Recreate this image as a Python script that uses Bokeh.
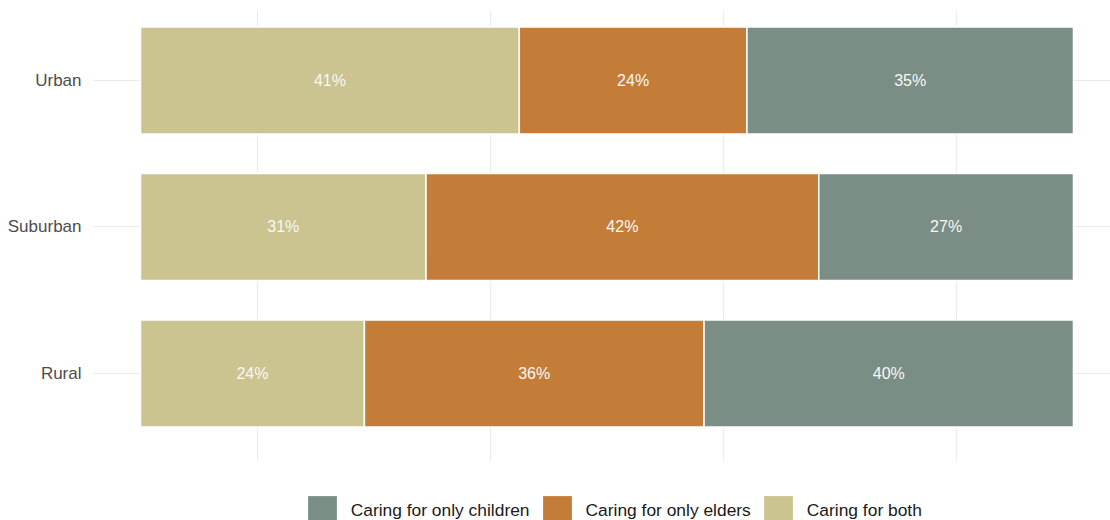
from bokeh.plotting import figure
from bokeh.layouts import column
from bokeh.models import ColumnDataSource, Range1d, FixedTicker, Legend, LegendItem
from bokeh.core.properties import value
from bokeh.embed import file_html
from bokeh.resources import INLINE

# ---- data ----
categories = ["Rural", "Suburban", "Urban"]
both = [0.240, 0.306, 0.406]
elders = [0.364, 0.421, 0.244]
children = [0.396, 0.273, 0.350]
series_labels = ["Caring for only children", "Caring for only elders", "Caring for both"]

c_children = "#7A8E86"
c_elders = "#C47D38"
c_both = "#CBC490"
FONT = "Liberation Sans"

ypos = [i + 1 for i in range(len(categories))]
src = ColumnDataSource(dict(y=ypos, both=both, elders=elders, children=children))

p = figure(width=1110, height=461,
           x_range=Range1d(-0.0504, 1.0397), y_range=Range1d(0.399, 3.478),
           output_backend="svg", toolbar_location=None, x_axis_location=None,
           min_border_left=93, min_border_right=0, min_border_top=10, min_border_bottom=0)
p.outline_line_color = None
p.background_fill_color = "white"

rs = p.hbar_stack(["both", "elders", "children"], y="y", height=0.73,
                  fill_color=[c_both, c_elders, c_children],
                  line_color="white", line_width=1.5, source=src)

# segment labels
lx, ly, lt = [], [], []
for i, y in enumerate(ypos):
    start = 0.0
    for v in (both[i], elders[i], children[i]):
        lx.append(start + v / 2)
        ly.append(y)
        lt.append(f"{round(v * 100)}%")
        start += v
p.text(x=lx, y=ly, text=lt, text_align="center", text_baseline="middle",
       text_color="#F8F8F4", text_font=value(FONT), text_font_size="16px")

# grids
p.ygrid.ticker = FixedTicker(ticks=ypos)
p.xgrid.ticker = FixedTicker(ticks=[k / 8 for k in (1, 3, 5, 7)])
p.grid.grid_line_color = "#EBEBEB"
p.grid.grid_line_width = 1.2

# y axis
p.yaxis.ticker = FixedTicker(ticks=ypos)
p.yaxis.major_label_overrides = {y: c for y, c in zip(ypos, categories)}
p.yaxis.axis_line_color = None
p.yaxis.major_tick_line_color = None
p.yaxis.minor_tick_line_color = None
p.yaxis.major_tick_out = 0
p.yaxis.major_tick_in = 0
p.yaxis.major_label_standoff = 12
p.yaxis.major_label_text_font = FONT
p.yaxis.major_label_text_font_size = "17px"
p.yaxis.major_label_text_color = "#4D4D4D"

# ---- legend strip below the panel ----
pl = figure(width=1110, height=59, x_range=Range1d(0, 1), y_range=Range1d(0, 1),
            output_backend="svg", toolbar_location=None,
            x_axis_location=None, y_axis_location=None, min_border=0)
pl.outline_line_color = None
pl.grid.visible = False
proxy = pl.hbar_stack(["both", "elders", "children"], y="y", height=0.73,
                      fill_color=[c_both, c_elders, c_children],
                      line_color=None, source=src, visible=False)
legend_renderers = [proxy[2], proxy[1], proxy[0]]
items = [LegendItem(label=lab, renderers=[r]) for lab, r in zip(series_labels, legend_renderers)]
legend = Legend(items=items, orientation="horizontal", location=(210.7, -8.1),
                glyph_width=36, glyph_height=36, label_height=36,
                label_standoff=11, spacing=9,
                padding=0, margin=0, border_line_color=None, background_fill_alpha=0,
                inactive_fill_alpha=0,
                label_text_font=FONT, label_text_font_size="17.4px", label_text_color="#1A1A1A")
pl.add_layout(legend, "center")

layout = column(p, pl, spacing=0)
open("out.html", "w").write(file_html(layout, INLINE))
